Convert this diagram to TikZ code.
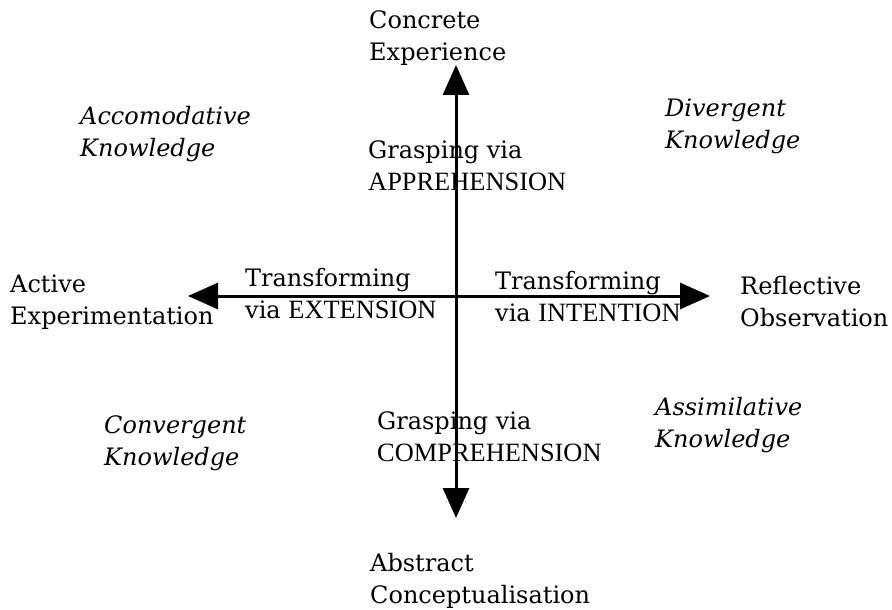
\documentclass[tikz,border=0pt]{standalone}
\usepackage{fontspec}
\setmainfont{DejaVu Serif}
\newfontfamily\capsfont[Scale=1.1]{Liberation Serif}
\newcommand{\modecaps}[1]{{\capsfont #1}}
\usetikzlibrary{arrows.meta,positioning}

\begin{document}
\begin{tikzpicture}[x=1pt,y=-1pt,font=\fontsize{24}{32}\selectfont,
  lbl/.style={anchor=west, align=left, inner sep=0pt},
  knw/.style={lbl, font=\fontsize{24}{32}\selectfont\itshape},
  axis/.style={-{Triangle[width=26pt,length=30pt]}, line width=3pt}]
\useasboundingbox (0,0) rectangle (892,610);
% axes
\coordinate (o) at (456,296);
\coordinate (up) at (456,65);
\coordinate (dn) at (456,518);
\coordinate (lt) at (188,296);
\coordinate (rt) at (710,296);
\draw[axis] (o)--(up); \draw[axis] (o)--(dn);
\draw[axis] (o)--(lt); \draw[axis] (o)--(rt);
% poles
\node[lbl] (ce) at (369,38) {Concrete\\Experience};
\node[lbl] (ae) at (10,302) {Active\\Experimentation};
\node[lbl] (ro) at (740,302) {Reflective\\Observation};
\node[lbl] (ac) at (370,581) {Abstract\\Conceptualisation};
% grasping / transforming
\node[lbl] (app) at (368,166) {Grasping via\\\modecaps{APPREHENSION}};
\node[lbl] (com) at (377,437) {Grasping via\\\modecaps{COMPREHENSION}};
\node[lbl] (ext) at (245,294) {Transforming\\via \modecaps{EXTENSION}};
\node[lbl] (int) at (495,297) {Transforming\\via \modecaps{INTENTION}};
% knowledge forms
\node[knw] (acc) at (80,134) {Accomodative\\Knowledge};
\node[knw] (div) at (665,126) {Divergent\\Knowledge};
\node[knw] (con) at (104,443) {Convergent\\Knowledge};
\node[knw] (ass) at (655,425) {Assimilative\\Knowledge};
\end{tikzpicture}
\end{document}
